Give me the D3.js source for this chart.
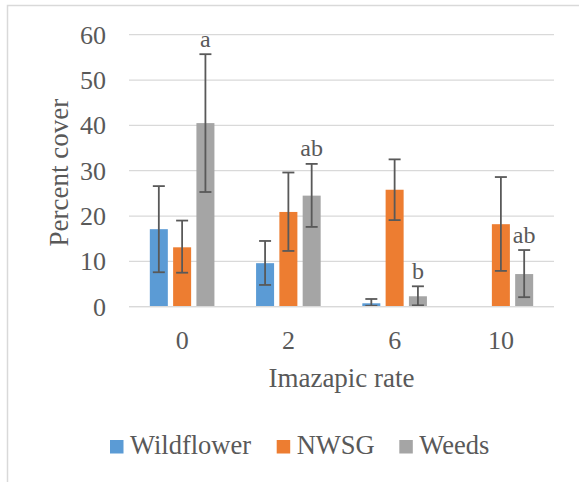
<!DOCTYPE html>
<html>
<head>
<meta charset="utf-8">
<script src="https://cdn.jsdelivr.net/npm/d3@7"></script>
</head>
<body style="margin:0;padding:0;background:#fff">
<svg id="chart" width="579" height="482" style="display:block"></svg>
<script>
const categories = ["0", "2", "6", "10"];
const seriesNames = ["Wildflower", "NWSG", "Weeds"];
const seriesColors = ["#5B9BD5", "#ED7D31", "#A5A5A5"];
const wildflower = [17.1, 9.6, 0.75, 0.1];
const nwsg = [13.1, 20.9, 25.8, 18.2];
const weeds = [40.5, 24.5, 2.3, 7.2];
const wildflowerLow = [7.6, 4.8, 0.2, 0.1];
const wildflowerHigh = [26.6, 14.5, 1.7, 0.1];
const nwsgLow = [7.5, 12.3, 19.1, 7.9];
const nwsgHigh = [19.0, 29.6, 32.5, 28.6];
const weedsLow = [25.3, 17.6, 0.3, 2.1];
const weedsHigh = [55.7, 31.5, 4.5, 12.5];
const weedsLetters = ["a", "ab", "b", "ab"];
const yTicks = [0, 10, 20, 30, 40, 50, 60];

const values = [wildflower, nwsg, weeds];
const lows = [wildflowerLow, nwsgLow, weedsLow];
const highs = [wildflowerHigh, nwsgHigh, weedsHigh];

const FONT = "'Liberation Serif'";
const TXT = "#595959";
const svg = d3.select("#chart");

// outer frame (partly clipped like reference)
svg.append("path")
  .attr("d", "M7.5,482 L7.5,5.5 L579,5.5")
  .attr("fill", "none").attr("stroke", "#d9d9d9").attr("stroke-width", 1.5);

const plot = { left: 129, right: 554, top: 34.7, bottom: 306.7 };

const x0 = d3.scaleBand().domain(categories).range([plot.left, plot.right]);
const y = d3.scaleLinear().domain([0, 60]).range([plot.bottom, plot.top]);
const x1 = d3.scaleBand().domain(seriesNames).range([-32.3, 32.3]).paddingInner(0.227);

// gridlines
svg.append("g").selectAll("line").data(yTicks).join("line")
  .attr("x1", plot.left).attr("x2", plot.right)
  .attr("y1", d => y(d)).attr("y2", d => y(d))
  .attr("stroke", "#d9d9d9").attr("stroke-width", 1.3);

// y axis labels
const yAxis = d3.axisLeft(y).tickValues(yTicks).tickSize(0).tickPadding(23);
const yg = svg.append("g").attr("transform", `translate(${plot.left},0)`).call(yAxis)
  .attr("font-family", FONT).attr("font-size", 26);
yg.select(".domain").remove();
yg.selectAll("text").attr("fill", TXT).attr("font-family", FONT).attr("font-size", 26);

// x axis labels
const xAxis = d3.axisBottom(x0).tickSize(0).tickPadding(24);
const xg = svg.append("g").attr("transform", `translate(0,${plot.bottom})`).call(xAxis)
  .attr("font-family", FONT).attr("font-size", 26);
xg.select(".domain").remove();
xg.selectAll("text").attr("fill", TXT).attr("font-family", FONT).attr("font-size", 26);

// bars
seriesNames.forEach((s, si) => {
  const g = svg.append("g");
  g.selectAll("rect").data(categories).join("rect")
    .attr("x", d => x0(d) + x0.bandwidth() / 2 + x1(s))
    .attr("width", x1.bandwidth())
    .attr("y", (d, i) => y(values[si][i]))
    .attr("height", (d, i) => y(0) - y(values[si][i]))
    .attr("fill", seriesColors[si]);
});

// error bars
const capHalf = 6;
seriesNames.forEach((s, si) => {
  const g = svg.append("g").attr("stroke", "#595959").attr("stroke-width", 1.8).attr("fill", "none");
  categories.forEach((cat, i) => {
    const lo = lows[si][i], hi = highs[si][i];
    if (hi - lo < 0.05) return;
    const cx = x0(cat) + x0.bandwidth() / 2 + x1(s) + x1.bandwidth() / 2;
    g.append("line").attr("x1", cx).attr("x2", cx).attr("y1", y(lo)).attr("y2", y(hi));
    g.append("line").attr("x1", cx - capHalf).attr("x2", cx + capHalf).attr("y1", y(lo)).attr("y2", y(lo));
    g.append("line").attr("x1", cx - capHalf).attr("x2", cx + capHalf).attr("y1", y(hi)).attr("y2", y(hi));
  });
});

// baseline axis line over bars
svg.append("line").attr("x1", plot.left).attr("x2", plot.right)
  .attr("y1", y(0)).attr("y2", y(0)).attr("stroke", "#d9d9d9").attr("stroke-width", 1.3);

// letters above Weeds bars
svg.append("g").selectAll("text").data(categories).join("text")
  .attr("x", d => x0(d) + x0.bandwidth() / 2 + x1("Weeds") + x1.bandwidth() / 2)
  .attr("y", (d, i) => y(weedsHigh[i]) - 7.5)
  .attr("text-anchor", "middle").attr("font-size", 24)
  .attr("font-family", FONT).attr("fill", TXT)
  .text((d, i) => weedsLetters[i]);

// axis titles
svg.append("text").attr("x", (plot.left + plot.right) / 2).attr("y", 387)
  .attr("text-anchor", "middle").attr("font-size", 27)
  .attr("font-family", FONT).attr("fill", TXT).text("Imazapic rate");
svg.append("text").attr("transform", `translate(68,${(plot.top + plot.bottom) / 2 + 2}) rotate(-90)`)
  .attr("text-anchor", "middle").attr("font-size", 27)
  .attr("font-family", FONT).attr("fill", TXT).text("Percent cover");

// legend
const legendX = [110, 276.7, 399.3];
const lg = svg.append("g");
seriesNames.forEach((s, si) => {
  lg.append("rect").attr("x", legendX[si]).attr("y", 440).attr("width", 13.5).attr("height", 13.5)
    .attr("fill", seriesColors[si]);
  lg.append("text").attr("x", legendX[si] + 20).attr("y", 454).attr("font-size", 26.5)
    .attr("font-family", FONT).attr("fill", TXT).text(s);
});
</script>
</body>
</html>
